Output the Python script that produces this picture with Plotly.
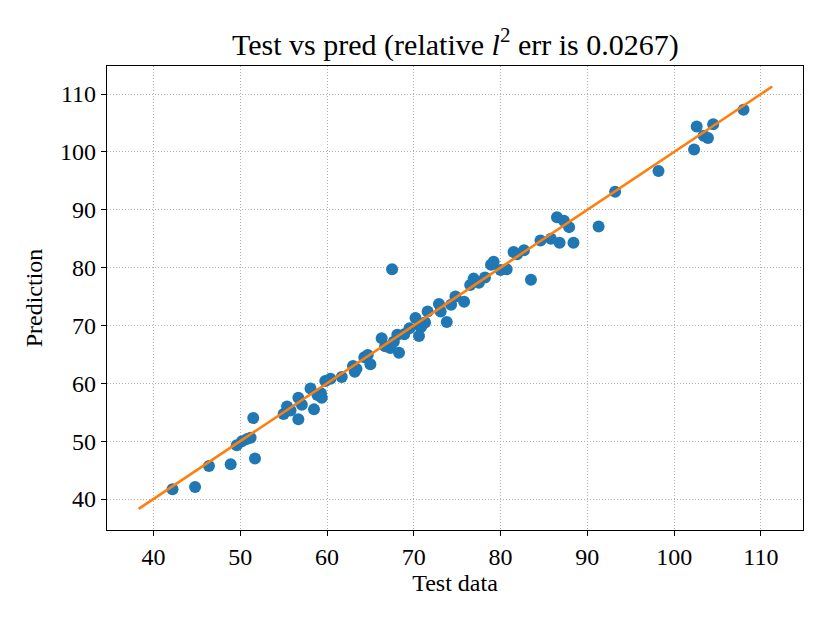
import plotly.graph_objects as go

# values
test_data = [42.2, 44.8, 46.4, 48.9, 49.6, 50.2, 50.8, 51.2, 51.5, 51.7,
             55.0, 55.4, 55.8, 56.7, 56.7, 57.1, 58.1, 58.5, 58.9, 59.3,
             59.4, 59.8, 60.4, 61.7, 63.0, 63.2, 63.4, 64.3, 64.7, 65.0,
             66.3, 66.7, 67.3, 67.5, 67.7, 68.1, 68.3, 68.9, 69.5, 70.2,
             70.6, 70.8, 70.9, 71.3, 71.6, 72.9, 73.1, 73.8, 74.3, 74.8,
             75.8, 76.5, 76.9, 77.5, 78.2, 78.9, 79.2, 80.0, 80.7, 81.5,
             81.9, 82.7, 83.5, 84.6, 85.8, 86.5, 86.8, 87.3, 87.9, 88.4,
             91.3, 93.2, 98.2, 102.3, 102.6, 103.4, 103.9, 104.5, 108.0]
prediction = [41.7, 42.1, 45.7, 46.0, 49.3, 50.0, 50.4, 50.6, 54.0, 47.0,
              54.7, 56.0, 55.3, 53.8, 57.5, 56.3, 59.1, 55.5, 58.0, 58.3,
              57.5, 60.4, 60.8, 61.1, 63.0, 62.0, 62.5, 64.5, 64.9, 63.3,
              67.8, 66.4, 66.1, 79.7, 67.2, 68.4, 65.3, 68.5, 69.5, 71.3,
              68.2, 69.7, 70.0, 70.5, 72.4, 73.7, 72.4, 70.6, 73.6, 75.0,
              74.1, 77.0, 78.1, 77.4, 78.3, 80.5, 81.0, 79.6, 79.7, 82.7,
              82.3, 83.0, 77.9, 84.7, 85.0, 88.7, 84.3, 88.1, 87.0, 84.3,
              87.1, 93.1, 96.7, 100.4, 104.4, 102.8, 102.4, 104.8, 107.3]

# y = x reference line, from min to max
line_ends = [38.3, 111.3]

ticks = [40, 50, 60, 70, 80, 90, 100, 110]
axis_range = [34.65, 114.85]

font_name = "Liberation Serif"

fig = go.Figure()
fig.add_trace(go.Scatter(x=test_data, y=prediction, mode='markers',
                         marker=dict(color='#1f77b4', size=12, line=dict(width=0)),
                         showlegend=False))
fig.add_trace(go.Scatter(x=line_ends, y=line_ends, mode='lines',
                         line=dict(color='#ff7f0e', width=2.6),
                         showlegend=False))

axis_style = dict(range=axis_range, tickvals=ticks, showgrid=True,
                  gridcolor='#b0b0b0', griddash='1px,2px', gridwidth=1,
                  showline=True, linecolor='black', linewidth=1.3, mirror=True,
                  ticks='outside', ticklen=5, tickwidth=1.2, tickcolor='black',
                  zeroline=False, tickfont=dict(family=font_name, size=24, color='black'))

fig.update_xaxes(title=dict(text='Test data', font=dict(family=font_name, size=24, color='black'),
                            standoff=5), **axis_style)
fig.update_yaxes(title=dict(text='Prediction', font=dict(family=font_name, size=24, color='black'),
                            standoff=10), **axis_style)

# the page has an 8px body margin, so margins are shifted to keep the plot in place
fig.update_layout(
    width=830, height=623,
    margin=dict(l=99, r=35, t=58, b=101),
    plot_bgcolor='white', paper_bgcolor='white',
    title=dict(text='Test vs pred (relative <i>l</i><sup>2</sup> err is 0.0267)',
               x=0.539, xanchor='center', y=0.925, yanchor='bottom',
               font=dict(family=font_name, size=30, color='black')),
)

fig.write_html("out.html")
